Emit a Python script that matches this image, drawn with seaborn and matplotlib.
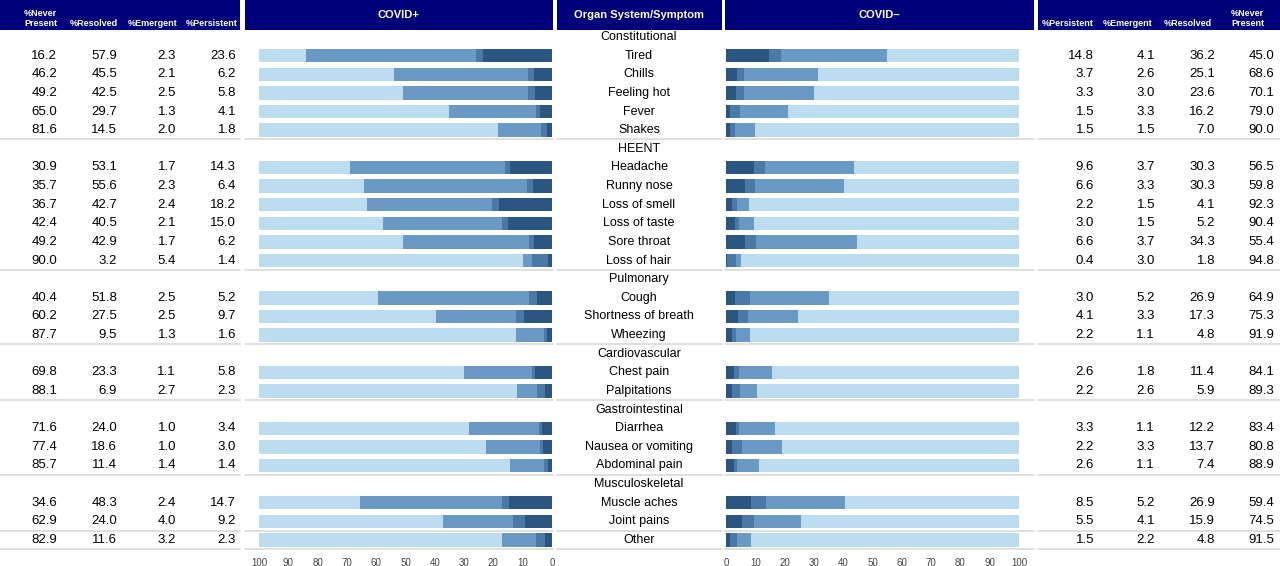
import numpy as np
import pandas as pd
import seaborn as sns
import matplotlib.pyplot as plt
from matplotlib.patches import Rectangle

# organ systems and their symptoms (None = no header row)
groups = ["Constitutional", "HEENT", "Pulmonary", "Cardiovascular",
          "Gastrointestinal", "Musculoskeletal", None]
group_symptoms = [
    ["Tired", "Chills", "Feeling hot", "Fever", "Shakes"],
    ["Headache", "Runny nose", "Loss of smell", "Loss of taste", "Sore throat", "Loss of hair"],
    ["Cough", "Shortness of breath", "Wheezing"],
    ["Chest pain", "Palpitations"],
    ["Diarrhea", "Nausea or vomiting", "Abdominal pain"],
    ["Muscle aches", "Joint pains"],
    ["Other"],
]

# COVID+ percentages
pos_never = [16.2, 46.2, 49.2, 65.0, 81.6, 30.9, 35.7, 36.7, 42.4, 49.2, 90.0,
             40.4, 60.2, 87.7, 69.8, 88.1, 71.6, 77.4, 85.7, 34.6, 62.9, 82.9]
pos_resolved = [57.9, 45.5, 42.5, 29.7, 14.5, 53.1, 55.6, 42.7, 40.5, 42.9, 3.2,
                51.8, 27.5, 9.5, 23.3, 6.9, 24.0, 18.6, 11.4, 48.3, 24.0, 11.6]
pos_emergent = [2.3, 2.1, 2.5, 1.3, 2.0, 1.7, 2.3, 2.4, 2.1, 1.7, 5.4,
                2.5, 2.5, 1.3, 1.1, 2.7, 1.0, 1.0, 1.4, 2.4, 4.0, 3.2]
pos_persistent = [23.6, 6.2, 5.8, 4.1, 1.8, 14.3, 6.4, 18.2, 15.0, 6.2, 1.4,
                  5.2, 9.7, 1.6, 5.8, 2.3, 3.4, 3.0, 1.4, 14.7, 9.2, 2.3]

# COVID- percentages
neg_persistent = [14.8, 3.7, 3.3, 1.5, 1.5, 9.6, 6.6, 2.2, 3.0, 6.6, 0.4,
                  3.0, 4.1, 2.2, 2.6, 2.2, 3.3, 2.2, 2.6, 8.5, 5.5, 1.5]
neg_emergent = [4.1, 2.6, 3.0, 3.3, 1.5, 3.7, 3.3, 1.5, 1.5, 3.7, 3.0,
                5.2, 3.3, 1.1, 1.8, 2.6, 1.1, 3.3, 1.1, 5.2, 4.1, 2.2]
neg_resolved = [36.2, 25.1, 23.6, 16.2, 7.0, 30.3, 30.3, 4.1, 5.2, 34.3, 1.8,
                26.9, 17.3, 4.8, 11.4, 5.9, 12.2, 13.7, 7.4, 26.9, 15.9, 4.8]
neg_never = [45.0, 68.6, 70.1, 79.0, 90.0, 56.5, 59.8, 92.3, 90.4, 55.4, 94.8,
             64.9, 75.3, 91.9, 84.1, 89.3, 83.4, 80.8, 88.9, 59.4, 74.5, 91.5]

tick_labels = ["0", "10", "20", "30", "40", "50", "60", "70", "80", "90", "100"]

C_NEVER = "#bcdcef"
C_RESOLVED = "#6a9ac4"
C_EMERGENT = "#4a79a8"
C_PERSIST = "#2b5682"
NAVY = "#00007a"
SEP = "#d9d9d9"

# build slot order (headers + symptoms)
slots = []
symptoms = []
separators = []
for g, syms in zip(groups, group_symptoms):
    if g is not None:
        slots.append(g)
    slots += syms
    symptoms += syms
    separators.append(len(slots) - 0.5)

df = pd.DataFrame({"symptom": symptoms})
df["p1"] = pos_persistent
df["p2"] = df["p1"] + pos_emergent
df["p3"] = df["p2"] + pos_resolved
df["p4"] = df["p3"] + pos_never
df["n1"] = neg_persistent
df["n2"] = df["n1"] + neg_emergent
df["n3"] = df["n2"] + neg_resolved
df["n4"] = df["n3"] + neg_never

sns.set_style("white")
plt.rcParams["font.family"] = ["Liberation Sans Narrow", "Liberation Sans", "DejaVu Sans"]

W, H = 1280, 566
fig = plt.figure(figsize=(12.8, 5.66), dpi=100)

Y0, Y1 = 37, 540
ROW = (Y1 - Y0) / (len(slots) - 1)
top = Y0 - ROW / 2
bot = Y1 + ROW / 2


def row_y(i):
    return Y0 + i * ROW


def px_axes(x0, x1):
    return fig.add_axes([x0 / W, 1 - bot / H, (x1 - x0) / W, (bot - top) / H])


# background axes for text, header boxes and separators
bg = fig.add_axes([0, 0, 1, 1])
bg.set_xlim(0, W)
bg.set_ylim(H, 0)
bg.axis("off")

panels = [(0, 240), (245, 553), (557, 722), (725, 1034), (1038, 1280)]
for x0, x1 in panels:
    bg.add_patch(Rectangle((x0, 0), x1 - x0, 30, color=NAVY, lw=0))
    for s in separators:
        y = top + (s + 0.5) * ROW
        bg.plot([x0, x1], [y, y], color=SEP, lw=1.2)

hdr = dict(color="white", fontweight="bold", fontsize=6.5)
bg.text(24, 28, "%Never\nPresent", ha="left", va="bottom", linespacing=1.1, **hdr)
bg.text(94, 28, "%Resolved", ha="center", va="bottom", **hdr)
bg.text(153, 28, "%Emergent", ha="center", va="bottom", **hdr)
bg.text(212, 28, "%Persistent", ha="center", va="bottom", **hdr)
bg.text(399, 15, "COVID+", ha="center", va="center", color="white", fontweight="bold", fontsize=8)
bg.text(639, 15, "Organ System/Symptom", ha="center", va="center", color="white", fontweight="bold", fontsize=8)
bg.text(879, 15, "COVID\u2013", ha="center", va="center", color="white", fontweight="bold", fontsize=8)
bg.text(1068, 28, "%Persistent", ha="center", va="bottom", **hdr)
bg.text(1128, 28, "%Emergent", ha="center", va="bottom", **hdr)
bg.text(1188, 28, "%Resolved", ha="center", va="bottom", **hdr)
bg.text(1231, 28, "%Never\nPresent", ha="left", va="bottom", linespacing=1.1, **hdr)

num = dict(ha="right", va="center", fontsize=9.5, color="#000000")
k = 0
for i, name in enumerate(slots):
    y = row_y(i)
    bg.text(639, y, name, ha="center", va="center", fontsize=9, color="#000000")
    if name in groups:
        continue
    bg.text(57, y, f"{pos_never[k]:.1f}", **num)
    bg.text(117, y, f"{pos_resolved[k]:.1f}", **num)
    bg.text(176, y, f"{pos_emergent[k]:.1f}", **num)
    bg.text(236, y, f"{pos_persistent[k]:.1f}", **num)
    bg.text(1094, y, f"{neg_persistent[k]:.1f}", **num)
    bg.text(1155, y, f"{neg_emergent[k]:.1f}", **num)
    bg.text(1215, y, f"{neg_resolved[k]:.1f}", **num)
    bg.text(1274, y, f"{neg_never[k]:.1f}", **num)
    k += 1

# stacked bars: draw cumulative totals, largest first
layers = [("4", C_NEVER), ("3", C_RESOLVED), ("2", C_EMERGENT), ("1", C_PERSIST)]
ax_pos = px_axes(259, 552)
ax_neg = px_axes(726, 1019)
for ax, prefix in [(ax_pos, "p"), (ax_neg, "n")]:
    for suffix, col in layers:
        sns.barplot(data=df, x=prefix + suffix, y="symptom", order=slots, orient="h",
                    color=col, saturation=1, width=0.72, errorbar=None, linewidth=0, ax=ax)
    ax.set_ylim(len(slots) - 0.5, -0.5)
    ax.set_facecolor("none")
    ax.set_xlabel("")
    ax.set_ylabel("")
    ax.set_yticks([])
    ax.set_xticks(np.arange(0, 101, 10))
    ax.set_xticklabels(tick_labels)
    ax.tick_params(axis="x", length=0, labelsize=7, labelcolor="#444444", pad=6)
    sns.despine(ax=ax, left=True, bottom=True)

ax_pos.set_xlim(100, 0)
ax_neg.set_xlim(0, 100)

fig.savefig("out.png", dpi=100)
